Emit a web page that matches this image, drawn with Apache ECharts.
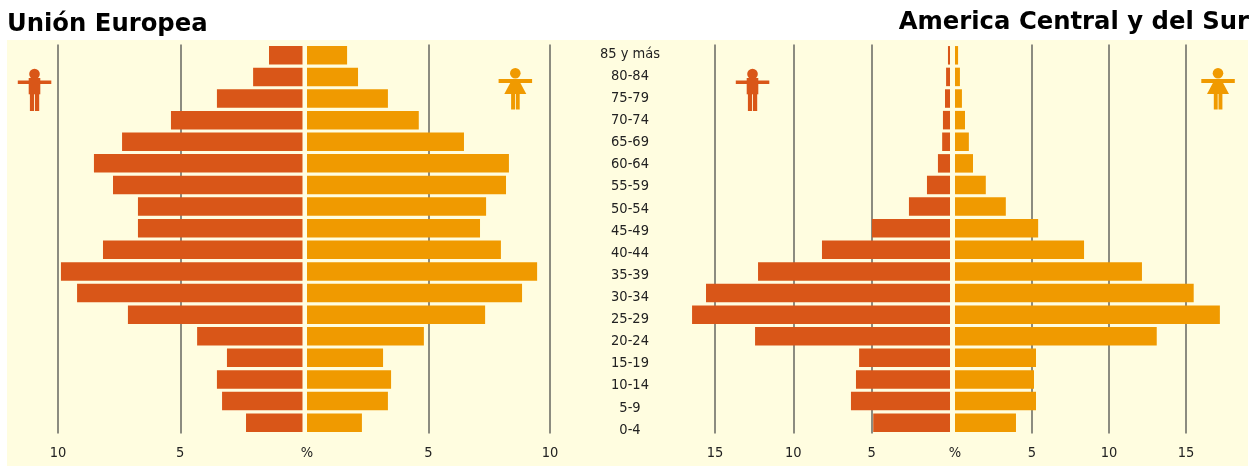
<!DOCTYPE html>
<html>
<head>
<meta charset="utf-8">
<style>
  html, body { margin: 0; padding: 0; background: #fff; }
  #chart { width: 1258px; height: 466px; }
</style>
<script src="https://cdn.jsdelivr.net/npm/echarts@6/dist/echarts.min.js"></script>
</head>
<body>
<div id="chart"></div>
<script>
const ageGroups = ['85 y más', '80-84', '75-79', '70-74', '65-69', '60-64', '55-59', '50-54', '45-49',
  '40-44', '35-39', '30-34', '25-29', '20-24', '15-19', '10-14', '5-9', '0-4']

const euMale = [1.37, 2.02, 3.5, 5.38, 7.38, 8.53, 7.75, 6.73, 6.73, 8.16, 9.88, 9.22, 7.14, 4.31, 3.09, 3.5, 3.29, 2.31]
const euFemale = [1.65, 2.1, 3.33, 4.6, 6.46, 8.31, 8.19, 7.37, 7.12, 7.98, 9.47, 8.85, 7.33, 4.81, 3.13, 3.46, 3.33, 2.26]
const amMale = [0.13, 0.25, 0.32, 0.45, 0.5, 0.77, 1.47, 2.62, 4.98, 8.17, 12.25, 15.57, 16.46, 12.44, 5.8, 6.0, 6.32, 4.9]
const amFemale = [0.2, 0.32, 0.45, 0.65, 0.9, 1.17, 2.0, 3.3, 5.4, 8.38, 12.14, 15.5, 17.2, 13.1, 5.26, 5.13, 5.26, 3.96]

const MALE = '#d95618'
const FEMALE = '#f09a00'
const LABEL_FONT = '"DejaVu Sans Condensed", "Liberation Sans Narrow", sans-serif'

const chart = echarts.init(document.getElementById('chart'), null, { renderer: 'canvas' })

// one x axis per half of each pyramid
const valueAxis = (gridIndex, max, inverse, zeroLabel) => ({
  type: 'value',
  gridIndex,
  min: 0,
  max,
  interval: 5,
  inverse,
  axisLine: { show: false },
  axisTick: { show: false },
  axisLabel: {
    show: true,
    fontFamily: LABEL_FONT,
    fontSize: 14.5,
    color: '#222',
    margin: 12,
    hideOverlap: false,
    formatter: v => {
      if (v === 0) return zeroLabel
      return v % 5 === 0 ? String(v) : ''
    }
  },
  splitLine: {
    show: true,
    showMinLine: false,
    showMaxLine: max % 5 === 0,
    lineStyle: { color: '#8c8c80', width: 2 }
  }
})

const bandAxis = gridIndex => ({
  type: 'category',
  gridIndex,
  data: ageGroups,
  inverse: true,
  show: false
})

const barSeries = (name, idx, data, color) => ({
  name,
  type: 'bar',
  xAxisIndex: idx,
  yAxisIndex: idx,
  data,
  barWidth: 18.5,
  silent: true,
  itemStyle: { color }
})

// icono de hombre
const manIcon = (cx) => ({
  type: 'group',
  x: cx,
  silent: true,
  children: [
    { type: 'circle', shape: { cx: 0, cy: 74, r: 5.3 }, style: { fill: MALE } },
    { type: 'rect', shape: { x: -16.7, y: 80.5, width: 33.5, height: 3.6 }, style: { fill: MALE } },
    { type: 'rect', shape: { x: -5.8, y: 78, width: 11.6, height: 16.3 }, style: { fill: MALE } },
    { type: 'rect', shape: { x: -4.6, y: 94, width: 4.2, height: 17 }, style: { fill: MALE } },
    { type: 'rect', shape: { x: 0.5, y: 94, width: 4.2, height: 17 }, style: { fill: MALE } }
  ]
})

// icono de mujer
const womanIcon = (cx) => ({
  type: 'group',
  x: cx,
  silent: true,
  children: [
    { type: 'circle', shape: { cx: 0, cy: 73.2, r: 5.3 }, style: { fill: FEMALE } },
    { type: 'rect', shape: { x: -16.7, y: 79, width: 33.5, height: 4 }, style: { fill: FEMALE } },
    { type: 'polygon', shape: { points: [[-4.6, 82], [4.6, 82], [11, 94], [-11, 94]] }, style: { fill: FEMALE } },
    { type: 'rect', shape: { x: -4.2, y: 93, width: 3.9, height: 16.5 }, style: { fill: FEMALE } },
    { type: 'rect', shape: { x: 0.5, y: 93, width: 3.9, height: 16.5 }, style: { fill: FEMALE } }
  ]
})

const titleStyle = { fontFamily: '"DejaVu Sans", sans-serif', fontWeight: 'bold', fontSize: 24.3, color: '#000' }

const option = {
  animation: false,
  backgroundColor: '#ffffff',
  title: [
    { text: 'Unión Europea', left: 7, top: 13, padding: 0, textStyle: titleStyle },
    { text: 'America Central y del Sur', right: 9, top: 11, padding: 0, textStyle: titleStyle }
  ],
  graphic: [
    { type: 'rect', z: -10, silent: true, shape: { x: 7, y: 40, width: 1241, height: 426 }, style: { fill: '#fffde0' } },
    manIcon(34.5),
    womanIcon(515.3),
    manIcon(752.5),
    womanIcon(1218)
  ],
  grid: [
    { left: 58, width: 244.5, top: 44.5, height: 389 },
    { left: 307, width: 243, top: 44.5, height: 389 },
    { left: 683.6, width: 266.4, top: 44.5, height: 389 },
    { left: 955, width: 277.2, top: 44.5, height: 389 },
    // columna central de edades, con su propio paso
    { left: 630, width: 1, top: 43, height: 398 }
  ],
  xAxis: [
    valueAxis(0, 10, true, ''),
    valueAxis(1, 10, false, '%'),
    valueAxis(2, 17, true, ''),
    valueAxis(3, 18, false, '%'),
    { type: 'value', gridIndex: 4, show: false }
  ],
  yAxis: [
    bandAxis(0),
    bandAxis(1),
    bandAxis(2),
    bandAxis(3),
    {
      type: 'category',
      gridIndex: 4,
      data: ageGroups,
      inverse: true,
      axisLine: { show: false },
      axisTick: { show: false },
      axisLabel: {
        show: true,
        interval: 0,
        align: 'center',
        margin: 0,
        fontFamily: LABEL_FONT,
        fontSize: 14.5,
        color: '#222'
      }
    }
  ],
  series: [
    barSeries('Hombres UE', 0, euMale, MALE),
    barSeries('Mujeres UE', 1, euFemale, FEMALE),
    barSeries('Hombres América', 2, amMale, MALE),
    barSeries('Mujeres América', 3, amFemale, FEMALE)
  ]
}

chart.setOption(option)
</script>
</body>
</html>
